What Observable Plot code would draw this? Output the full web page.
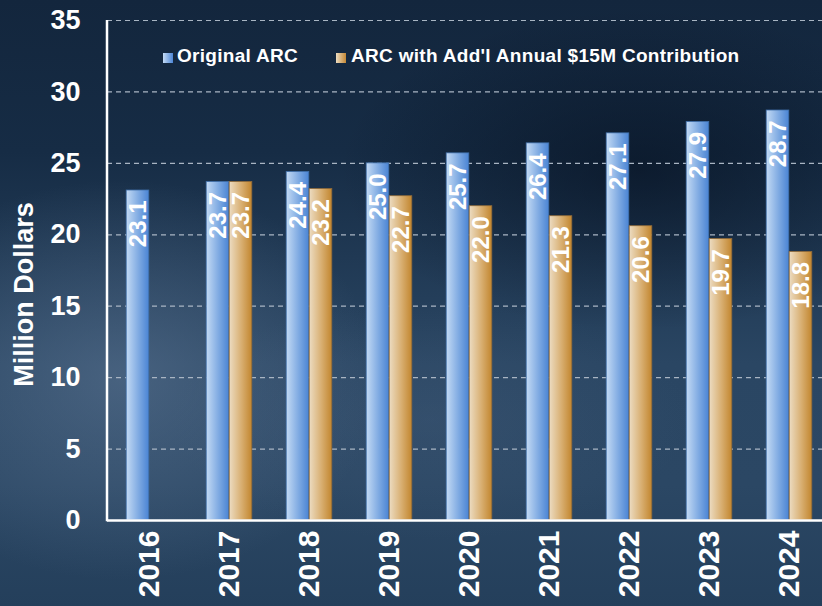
<!DOCTYPE html>
<html>
<head>
<meta charset="utf-8">
<script src="https://cdn.jsdelivr.net/npm/d3@7"></script>
<script src="https://cdn.jsdelivr.net/npm/@observablehq/plot@0.6"></script>
<style>
html,body{margin:0;padding:0;}
body{width:822px;height:606px;overflow:hidden;position:relative;
 font-family:"Liberation Sans",Arial,sans-serif;
 background:
  radial-gradient(ellipse 260px 200px at 120px 380px, rgba(95,120,150,0.55), rgba(95,120,150,0) 100%),
  radial-gradient(ellipse 300px 160px at 640px 170px, rgba(5,15,30,0.6), rgba(5,15,30,0) 100%),
  radial-gradient(ellipse 260px 120px at 430px 420px, rgba(70,95,125,0.35), rgba(70,95,125,0) 100%),
  linear-gradient(180deg,#13263d 0%,#162c45 25%,#2a4663 60%,#2b4764 80%,#243f5b 100%);
}
#chart{position:absolute;left:0;top:0;}
.leg{position:absolute;font-weight:bold;font-size:19px;color:#fff;white-space:nowrap;line-height:22px;letter-spacing:0.3px;}
.sw{position:absolute;width:10px;height:10px;}
</style>
</head>
<body>
<div id="chart"></div>
<div class="sw" style="left:163px;top:53px;background:linear-gradient(90deg,#c4dbf5,#4d86d6);"></div>
<div class="leg" style="left:177px;top:45px;">Original ARC</div>
<div class="sw" style="left:336px;top:53px;background:linear-gradient(90deg,#ecdcc0,#c48835);"></div>
<div class="leg" style="left:351px;top:45px;">ARC with Add'l Annual $15M Contribution</div>
<script>
const years = ["2016","2017","2018","2019","2020","2021","2022","2023","2024"];
const originalARC = [23.1,23.7,24.4,25.0,25.7,26.4,27.1,27.9,28.7];
const withContribution = [null,23.7,23.2,22.7,22.0,21.3,20.6,19.7,18.8];
const yTicks = [0,5,10,15,20,25,30,35];
const gridTicks = [5,10,15,20,25,30,35];
const seriesNames = ["Original ARC","ARC with Add'l Annual $15M Contribution"];

const blueData = years.map((y,i)=>({year:y, value:originalARC[i]}));
const orangeData = years.map((y,i)=>({year:y, value:withContribution[i]})).filter(d=>d.value!=null);

const font = "Liberation Sans, Arial, sans-serif";
const chart = Plot.plot({
  width:822, height:606,
  marginTop:20, marginBottom:86, marginLeft:107, marginRight:0,
  style:{background:"transparent", overflow:"visible", fontFamily:font},
  x:{type:"band", domain:years, range:[107.8,831], padding:0, axis:null},
  y:{domain:[0,35], range:[520,20], axis:null},
  marks:[
    Plot.ruleY(gridTicks,{stroke:"#a9b5c3", strokeWidth:1.2, strokeDasharray:"5,4"}),
    Plot.barY(blueData,{x:"year", y:"value", fill:"url(#gBlue)", insetLeft:17.2, insetRight:40.2, stroke:"#3f6ea8", strokeWidth:0.8}),
    Plot.barY(orangeData,{x:"year", y:"value", fill:"url(#gOrange)", insetLeft:40.2, insetRight:17.2, stroke:"#8f6a3a", strokeWidth:0.8}),
    Plot.text(blueData,{x:"year", y:"value", text:d=>d.value.toFixed(1), rotate:-90, textAnchor:"end", dx:-11.5, dy:10, fill:"white", fontSize:24, fontWeight:"bold"}),
    Plot.text(orangeData,{x:"year", y:"value", text:d=>d.value.toFixed(1), rotate:-90, textAnchor:"end", dx:11.5, dy:10, fill:"white", fontSize:24, fontWeight:"bold"}),
    Plot.ruleY([0],{stroke:"white", strokeWidth:2.5}),
    Plot.axisY(yTicks,{tickSize:0, tickPadding:27, fontSize:27, fontWeight:"bold", fill:"white", label:null}),
    Plot.axisX({tickSize:0, tickPadding:10, tickRotate:-90, fontSize:30, fontWeight:"bold", fill:"white", label:null}),
    Plot.text(["Million Dollars"],{frameAnchor:"left", textAnchor:"middle", dx:-83, dy:24, rotate:-90, fill:"white", fontSize:27, fontWeight:"bold"})
  ]
});

// gradients
const ns = "http://www.w3.org/2000/svg";
const defs = document.createElementNS(ns,"defs");
defs.innerHTML = `
<linearGradient id="gBlue" x1="0" x2="1" y1="0" y2="0">
 <stop offset="0" stop-color="#c3daf4"/><stop offset="0.55" stop-color="#7faae2"/><stop offset="1" stop-color="#4a84d4"/>
</linearGradient>
<linearGradient id="gOrange" x1="0" x2="1" y1="0" y2="0">
 <stop offset="0" stop-color="#ecdcc2"/><stop offset="0.55" stop-color="#d8ae70"/><stop offset="1" stop-color="#c2862f"/>
</linearGradient>`;
chart.insertBefore(defs, chart.firstChild);

// left axis line drawn with the y scale
const ys = chart.scale("y");
const line = document.createElementNS(ns,"line");
line.setAttribute("x1",107); line.setAttribute("x2",107);
line.setAttribute("y1",ys.apply(35)); line.setAttribute("y2",ys.apply(0)+1.25);
line.setAttribute("stroke","white"); line.setAttribute("stroke-width",2.5);
chart.appendChild(line);

document.getElementById("chart").appendChild(chart);
</script>
</body>
</html>
